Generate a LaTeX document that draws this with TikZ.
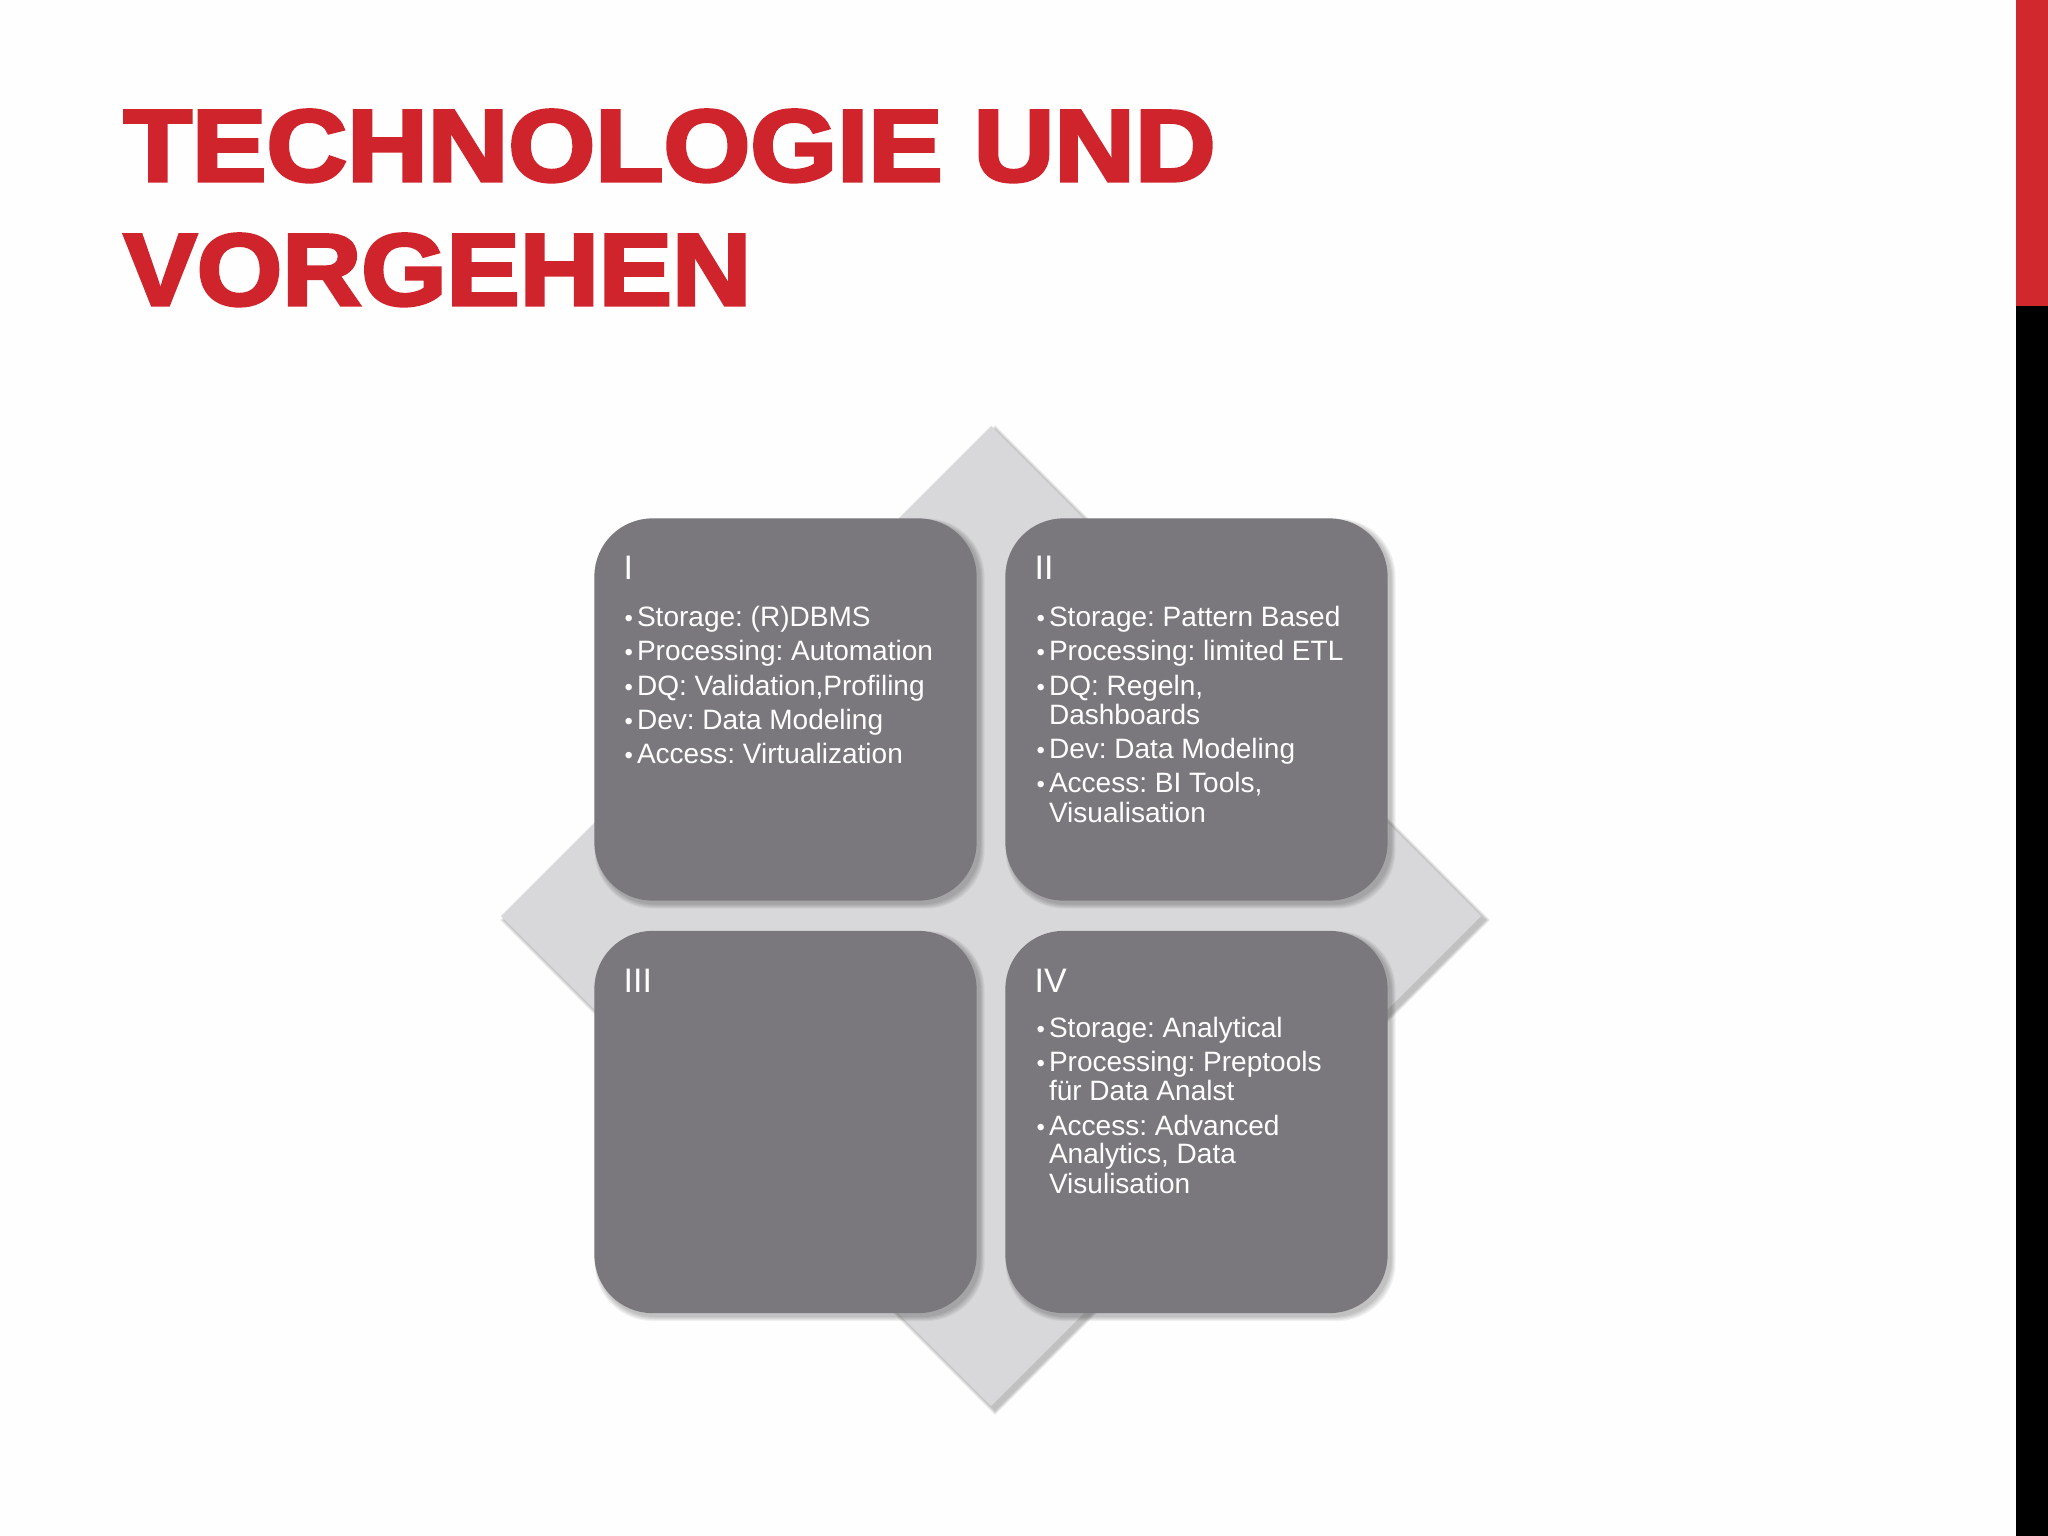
\documentclass[tikz,border=0pt]{standalone}
\usepackage{fontspec}
\setmainfont{Liberation Sans}
\newfontfamily\titlefont[FakeBold=3.2]{Liberation Sans Bold}
\definecolor{titlered}{RGB}{208,36,45}
\definecolor{barred}{RGB}{208,40,45}
\definecolor{boxgray}{RGB}{122,120,124}
\definecolor{diagray}{RGB}{216,215,218}
\definecolor{bgwhite}{RGB}{254,254,254}
\newcommand\bul{\makebox[3.5pt][l]{\fontsize{6.8pt}{6.8pt}\selectfont •}}
\newcommand\ind{\hspace*{3.5pt}}
\frenchspacing
\tikzset{
  titletext/.style={anchor=base west, inner sep=0pt, text=titlered,
    font=\titlefont\fontsize{29.0pt}{29.0pt}\selectfont},
  quadbox/.style={fill=boxgray, draw=none, rounded corners=0.58cm, inner sep=0pt,
    minimum width=3.82cm, minimum height=3.82cm},
  romantext/.style={anchor=base west, inner sep=0pt, text=white,
    font=\fontsize{9.67pt}{9.67pt}\selectfont},
  itemtext/.style={anchor=base west, inner sep=0pt, text=white,
    font=\fontsize{7.97pt}{8.34pt}\selectfont},
  shadowlayer/.style={fill=black, opacity=0.05}
}
\begin{document}
\begin{tikzpicture}[x=0.01cm, y=-0.01cm]
% background
\fill[bgwhite] (0,0) rectangle (2048,1536);
\useasboundingbox (0,0) rectangle (2048,1536);
% right bar
\fill[barred] (2016,0) rectangle (2048,306);
\fill[black] (2016,306) rectangle (2048,1536);
% title
\node[titletext, xscale=1.095] (title1) at (123,181) {TECHNOLOGIE UND};
\node[titletext, xscale=1.075] (title2) at (123,305) {VORGEHEN};
% diamond shadow
\foreach \i in {1,...,5}{
  \fill[shadowlayer] (991+4,426+4-\i) -- (1481+4+\i,916+4) -- (991+4,1406+4+\i) -- (501+4-\i,916+4) -- cycle;
}
% diamond
\fill[diagray] (991,426) -- (1481,916) -- (991,1406) -- (501,916) -- cycle;
% box shadows
\foreach \cx/\cy in {785.5/709.5, 1196.5/709.5, 785.5/1122, 1196.5/1122}{
  \foreach \i in {1,...,5}{
    \fill[shadowlayer, rounded corners=0.58cm] (\cx-191+3-\i*0.6,\cy-191+3-\i*0.6) rectangle (\cx+191+3+\i,\cy+191+3+\i);
  }
}
% boxes
\node[quadbox] (b1) at (785.5,709.5) {};
\node[quadbox] (b2) at (1196.5,709.5) {};
\node[quadbox] (b3) at (785.5,1122) {};
\node[quadbox] (b4) at (1196.5,1122) {};
% roman numerals
\node[romantext] (r1) at (623,579) {I};
\node[romantext] (r2) at (1034,579) {II};
\node[romantext] (r3) at (623,992) {III};
\node[romantext] (r4) at (1034,992) {IV};
% box I
\node[itemtext] (a1) at (624,626) {\bul Storage: (R)DBMS};
\node[itemtext] (a2) at (624,660) {\bul Processing: Automation};
\node[itemtext] (a3) at (624,695) {\bul DQ: Validation,Profiling};
\node[itemtext] (a4) at (624,729) {\bul Dev: Data Modeling};
\node[itemtext] (a5) at (624,763) {\bul Access: Virtualization};
% box II
\node[itemtext] (c1) at (1036,626) {\bul Storage: Pattern Based};
\node[itemtext] (c2) at (1036,660) {\bul Processing: limited ETL};
\node[itemtext] (c3) at (1036,695) {\bul DQ: Regeln,};
\node[itemtext] (c4) at (1036,724) {\ind Dashboards};
\node[itemtext] (c5) at (1036,758) {\bul Dev: Data Modeling};
\node[itemtext] (c6) at (1036,792) {\bul Access: BI Tools,};
\node[itemtext] (c7) at (1036,822) {\ind Visualisation};
% box IV
\node[itemtext] (d1) at (1036,1037) {\bul Storage: Analytical};
\node[itemtext] (d2) at (1036,1071) {\bul Processing: Preptools};
\node[itemtext] (d3) at (1036,1100) {\ind für Data Analst};
\node[itemtext] (d4) at (1036,1135) {\bul Access: Advanced};
\node[itemtext] (d5) at (1036,1163) {\ind Analytics, Data};
\node[itemtext] (d6) at (1036,1193) {\ind Visulisation};
\end{tikzpicture}
\end{document}
